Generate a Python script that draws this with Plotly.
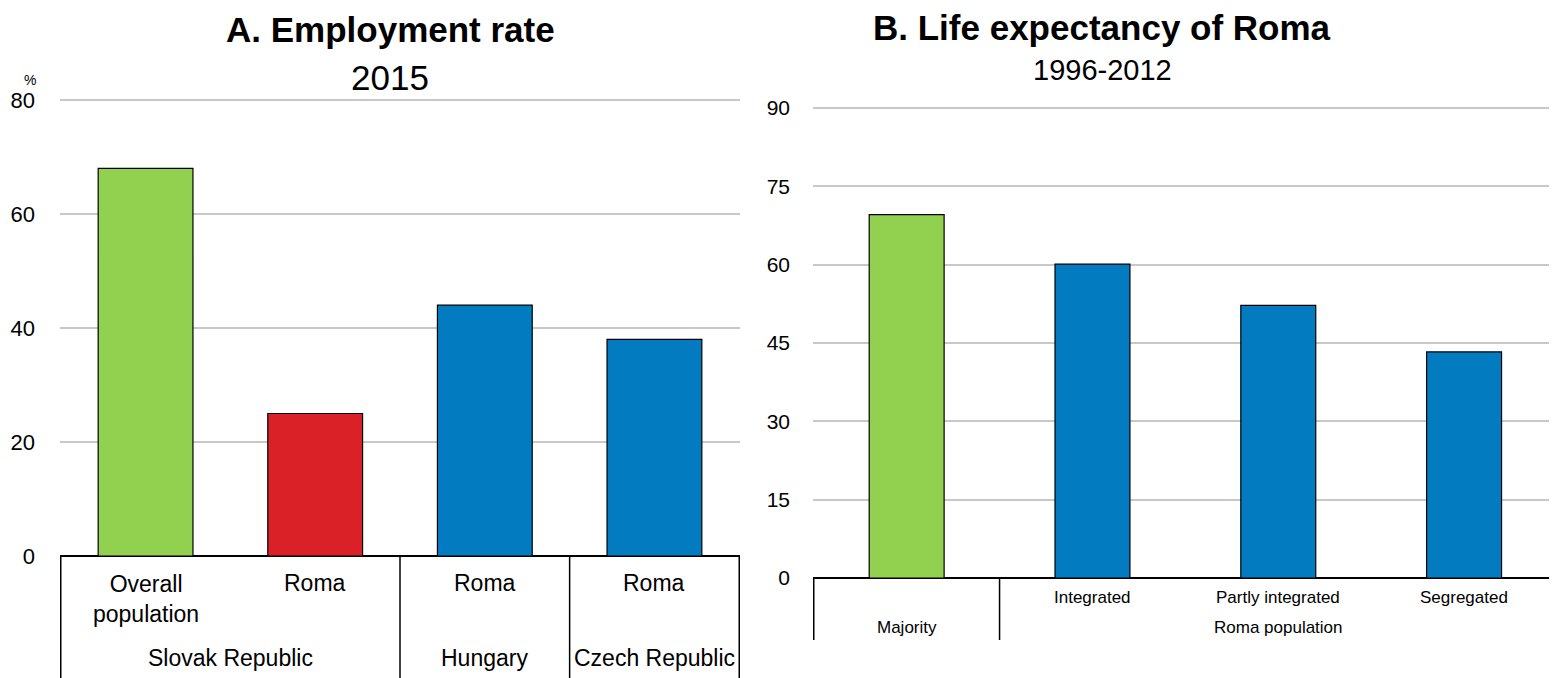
import plotly.graph_objects as go

# ---------------- data ----------------
a_countries = ["Slovak Republic", "Slovak Republic", "Hungary", "Czech Republic"]
a_groups = ["Overall<br>population", "Roma", "Roma", "Roma"]
a_values = [68, 25, 44, 38]
a_colors = ["#92D050", "#DA2128", "#037BC1", "#037BC1"]
a_ids = ["SK-Overall", "SK-Roma", "HU-Roma", "CZ-Roma"]
a_yticks = [0, 20, 40, 60, 80]

b_groups = ["Majority", "Roma population", "Roma population", "Roma population"]
b_labels = ["", "Integrated", "Partly integrated", "Segregated"]
b_values = [69.6, 60.1, 52.2, 43.3]
b_colors = ["#92D050", "#037BC1", "#037BC1", "#037BC1"]
b_ids = ["Majority", "Integrated", "Partly integrated", "Segregated"]
b_yticks = [0, 15, 30, 45, 60, 75, 90]

W, H = 1557, 678
OFF = 8  # page body margin offset
FONT = "Liberation Sans, Arial, sans-serif"


def py(pix):
    return (H - (pix - OFF)) / H


def px(pix):
    return (pix - OFF) / W


fig = go.Figure()
fig.add_trace(go.Bar(x=a_ids, y=a_values, marker=dict(color=a_colors, line=dict(color="black", width=1.2)),
                     xaxis="x", yaxis="y", showlegend=False, hoverinfo="y", width=95 / 170))
fig.add_trace(go.Bar(x=b_ids, y=b_values, marker=dict(color=b_colors, line=dict(color="black", width=1.2)),
                     xaxis="x2", yaxis="y2", showlegend=False, hoverinfo="y", width=75 / 186))

# pixel geometry of the plot areas (zero line and top tick)
A_X = [60, 740]
A_ZERO, A_TOP, A_TOPV, A_RMAX = 556, 100, 80, 81
B_X = [813, 1557]
B_ZERO, B_TOP, B_TOPV, B_RMAX = 578, 108, 90, 91
a_scale = (A_ZERO - A_TOP) / A_TOPV
b_scale = (B_ZERO - B_TOP) / B_TOPV
A_Y = [A_ZERO - A_RMAX * a_scale, A_ZERO]
B_Y = [B_ZERO - B_RMAX * b_scale, B_ZERO]

fig.update_layout(
    width=W, height=H,
    margin=dict(l=0, r=0, t=0, b=0, autoexpand=False),
    paper_bgcolor="white", plot_bgcolor="white",
    font=dict(family=FONT, color="black"),
    xaxis=dict(domain=[px(A_X[0]), px(A_X[1])], type="category", categoryorder="array", categoryarray=a_ids,
               showticklabels=False, showgrid=False, zeroline=False, showline=False, ticks="",
               anchor="y", fixedrange=True, automargin=False),
    yaxis=dict(domain=[py(A_Y[1]), py(A_Y[0])], range=[0, A_RMAX], tickvals=a_yticks, showgrid=True,
               gridcolor="#C8C8C8", gridwidth=2, zeroline=True, zerolinecolor="black", zerolinewidth=2,
               showline=False, ticks="", tickfont=dict(size=22), ticklabelstandoff=24, anchor="x",
               fixedrange=True, automargin=False),
    xaxis2=dict(domain=[px(B_X[0]), min(1.0, px(B_X[1]))], type="category", categoryorder="array",
                categoryarray=b_ids, showticklabels=False, showgrid=False, zeroline=False, showline=False,
                ticks="", anchor="y2", fixedrange=True, automargin=False),
    yaxis2=dict(domain=[py(B_Y[1]), py(B_Y[0])], range=[0, B_RMAX], tickvals=b_yticks, showgrid=True,
                gridcolor="#C8C8C8", gridwidth=2, zeroline=True, zerolinecolor="black", zerolinewidth=2,
                showline=False, ticks="", tickfont=dict(size=21), ticklabelstandoff=22, anchor="x2",
                fixedrange=True, automargin=False),
)

annotations = []
shapes = []

# ---- panel A titles ----
annotations.append(dict(text="<b>A. Employment rate</b>", x=px(390), y=py(29), xref="paper", yref="paper",
                        showarrow=False, xanchor="center", yanchor="middle", font=dict(size=35)))
annotations.append(dict(text="2015", x=px(390), y=py(77), xref="paper", yref="paper",
                        showarrow=False, xanchor="center", yanchor="middle", font=dict(size=35)))
annotations.append(dict(text="%", x=px(30), y=py(80), xref="paper", yref="paper",
                        showarrow=False, xanchor="center", yanchor="middle", font=dict(size=14)))

# ---- panel A category labels ----
for cid, g in zip(a_ids, a_groups):
    annotations.append(dict(text=g, x=cid, xref="x", y=py(599 if "<br>" in g else 583), yref="paper",
                            showarrow=False, xanchor="center", yanchor="middle", font=dict(size=23)))
seen = []
for c in a_countries:
    if c not in seen:
        seen.append(c)
for c in seen:
    idx = [i for i, cc in enumerate(a_countries) if cc == c]
    annotations.append(dict(text=c, x=(idx[0] + idx[-1]) / 2, xref="x", y=py(658), yref="paper",
                            showarrow=False, xanchor="center", yanchor="middle", font=dict(size=23)))
bounds = [-0.5]
for i in range(1, len(a_countries)):
    if a_countries[i] != a_countries[i - 1]:
        bounds.append(i - 0.5)
bounds.append(len(a_countries) - 0.5)
for b in bounds:
    shapes.append(dict(type="line", xref="x", yref="paper", x0=b, x1=b, y0=0, y1=py(A_ZERO),
                       line=dict(color="black", width=1.5)))

# ---- panel B titles ----
annotations.append(dict(text="<b>B. Life expectancy of Roma</b>", x=px(1102), y=py(27), xref="paper",
                        yref="paper", showarrow=False, xanchor="center", yanchor="middle", font=dict(size=35)))
annotations.append(dict(text="1996-2012", x=px(1102), y=py(70), xref="paper", yref="paper",
                        showarrow=False, xanchor="center", yanchor="middle", font=dict(size=29)))

# ---- panel B category labels ----
for cid, lab in zip(b_ids, b_labels):
    if lab:
        annotations.append(dict(text=lab, x=cid, xref="x2", y=py(597), yref="paper",
                                showarrow=False, xanchor="center", yanchor="middle", font=dict(size=17)))
seen = []
for g in b_groups:
    if g not in seen:
        seen.append(g)
for g in seen:
    idx = [i for i, gg in enumerate(b_groups) if gg == g]
    annotations.append(dict(text=g, x=(idx[0] + idx[-1]) / 2, xref="x2", y=py(627), yref="paper",
                            showarrow=False, xanchor="center", yanchor="middle", font=dict(size=17)))
bbounds = [-0.5]
for i in range(1, len(b_groups)):
    if b_groups[i] != b_groups[i - 1]:
        bbounds.append(i - 0.5)
for b in bbounds:
    shapes.append(dict(type="line", xref="x2", yref="paper", x0=b, x1=b, y0=py(640), y1=py(B_ZERO),
                       line=dict(color="black", width=1.5)))

fig.update_layout(annotations=annotations, shapes=shapes)
fig.write_html("out.html")
